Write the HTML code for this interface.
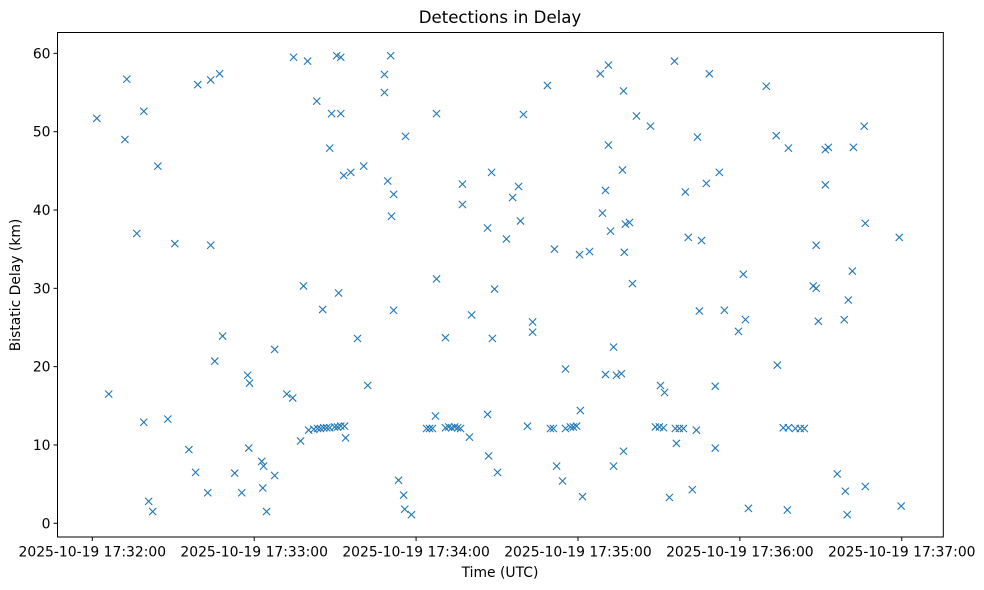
<!DOCTYPE html>
<html><head><meta charset="utf-8">
<style>
body{margin:0;background:#fff;}
svg{display:block;font-family:"DejaVu Sans","Liberation Sans",sans-serif;}
</style></head>
<body>
<svg id="chart" width="984" height="590" viewBox="0 0 984 590" xmlns="http://www.w3.org/2000/svg">
<rect width="984" height="590" fill="#fff"/>
<text x="500" y="23" text-anchor="middle" font-size="16.6">Detections in Delay</text>
<g id="marks"></g>
<rect x="57.5" y="32.5" width="885.8" height="504.5" fill="none" stroke="#000" stroke-width="1"/>
<g id="xticks"></g>
<g id="yticks"></g>
<text x="500" y="577" text-anchor="middle" font-size="13.9">Time (UTC)</text>
<text transform="translate(20,285) rotate(-90)" text-anchor="middle" font-size="13.9">Bistatic Delay (km)</text>
</svg>
<script>
// seconds after 2025-10-19 17:32:00
const times = [1.5,5.9,11.9,12.6,16.3,18.9,18.9,20.7,22.2,24.1,27.8,30.4,35.6,38.1,38.9,42.6,43.7,43.7,45.2,47.0,48.1,52.6,55.2,57.4,58.1,57.8,62.6,63.0,63.3,64.4,67.4,67.4,71.9,74.1,74.4,77.0,78.1,79.6,
80.0,81.9,83.3,84.4,85.6,86.7,87.8,89.6,90.7,91.9,93.3,
83.0,85.2,87.8,88.5,90.4,91.1,91.9,91.9,93.0,93.7,95.6,98.1,100.4,101.9,108.1,108.1,109.3,110.4,110.7,111.5,111.5,113.3,115.2,115.6,115.9,118.1,
123.7,124.8,125.9,127.0,127.4,127.4,130.7,
130.7,131.9,133.0,134.1,135.2,136.3,
137.0,137.0,139.6,140.4,146.3,146.3,146.7,147.8,148.1,148.9,150.0,153.3,155.6,157.8,158.5,159.6,161.1,163.0,163.0,168.5,169.6,170.7,171.1,171.9,174.1,175.2,175.2,177.0,178.1,179.3,180.4,180.7,181.5,184.1,
188.1,188.9,190.0,190.0,191.1,191.1,191.9,193.0,193.0,194.1,195.9,196.7,196.3,196.7,197.0,197.4,198.9,200.0,201.5,206.7,
208.5,210.0,211.5,210.4,211.9,213.7,215.6,215.9,216.3,217.4,218.9,219.6,220.7,222.2,223.7,224.1,224.8,225.6,227.4,228.5,230.7,230.7,232.2,234.1,239.3,241.1,241.9,243.0,249.6,253.3,253.7,
255.9,257.8,260.4,262.2,263.7,257.4,257.8,267.0,268.1,268.1,268.9,271.5,272.6,271.5,275.9,278.5,278.9,279.6,280.0,281.5,281.9,285.9,286.3,286.3,298.9,299.6];
const delays = [51.7,16.5,49.0,56.7,37.0,52.6,12.9,2.8,1.5,45.6,13.3,35.7,9.4,6.5,56.0,3.9,56.6,35.5,20.7,57.4,23.9,6.4,3.9,18.9,17.9,9.6,7.9,4.5,7.3,1.5,6.1,22.2,16.5,16.0,59.5,10.5,30.3,59.0,
11.9,12.0,12.1,12.1,12.2,12.2,12.2,12.3,12.3,12.4,12.4,
53.9,27.3,47.9,52.3,59.7,29.4,59.5,52.3,44.4,10.9,44.8,23.6,45.6,17.6,57.3,55.0,43.7,59.7,39.2,42.0,27.2,5.5,3.6,1.8,49.4,1.1,
12.1,12.1,12.1,13.7,52.3,31.2,23.7,
12.2,12.3,12.2,12.3,12.2,12.1,
43.3,40.7,11.0,26.6,37.7,13.9,8.6,44.8,23.6,29.9,6.5,36.3,41.6,43.0,38.6,52.2,12.4,25.7,24.4,55.9,12.1,12.1,35.0,7.3,5.4,19.7,12.1,12.3,12.3,12.4,34.3,14.4,3.4,34.7,
57.4,39.6,42.5,19.0,58.5,48.3,37.3,22.5,7.3,18.9,19.1,55.2,45.1,9.2,34.6,38.2,38.4,30.6,52.0,50.7,
12.3,12.3,12.2,17.6,16.7,3.3,59.0,12.1,10.2,12.1,12.1,42.3,36.5,4.3,11.9,49.3,27.1,36.1,43.4,57.4,17.5,9.6,44.8,27.2,24.5,31.8,26.0,1.9,55.8,49.5,20.2,
12.2,12.2,12.1,12.1,12.1,1.7,47.9,30.3,30.0,35.5,25.8,47.7,48.0,43.2,6.3,26.0,4.1,1.1,28.5,32.2,48.0,50.7,38.3,4.7,36.5,2.2];
const xTickValues = [0,60,120,180,240,300];
const xTickLabels = ["2025-10-19 17:32:00","2025-10-19 17:33:00","2025-10-19 17:34:00","2025-10-19 17:35:00","2025-10-19 17:36:00","2025-10-19 17:37:00"];
const yTickValues = [0,10,20,30,40,50,60];

const X0=57.5,X1=943.3,Y0=537,Y1=32.5;
const xMin=-12.9,xMax=315.4,yMin=-1.75,yMax=62.66;
function xs(v){return X0+(v-xMin)/(xMax-xMin)*(X1-X0);}
function ys(v){return Y0-(v-yMin)/(yMax-yMin)*(Y0-Y1);}
const NS="http://www.w3.org/2000/svg";
const marks=document.getElementById('marks');
for(let i=0;i<times.length;i++){
  const cx=xs(times[i])+0.5,cy=ys(delays[i]),r=3.6;
  const p=document.createElementNS(NS,'path');
  p.setAttribute('d',`M${cx-r},${cy-r}L${cx+r},${cy+r}M${cx-r},${cy+r}L${cx+r},${cy-r}`);
  p.setAttribute('stroke','#1f77b4');p.setAttribute('stroke-width','1.1');p.setAttribute('fill','none');
  
  
  marks.appendChild(p);
}
const xg=document.getElementById('xticks');
xTickValues.forEach((v,i)=>{
  const x=xs(v);
  const l=document.createElementNS(NS,'line');
  l.setAttribute('x1',x);l.setAttribute('x2',x);l.setAttribute('y1',Y0);l.setAttribute('y2',Y0+4);l.setAttribute('stroke','#000');
  
  
  xg.appendChild(l);
  const t=document.createElementNS(NS,'text');
  t.setAttribute('x',x);t.setAttribute('y',Y0+19.5);t.setAttribute('text-anchor','middle');t.setAttribute('font-size','13.9');
  t.textContent=xTickLabels[i];
  
  
  xg.appendChild(t);
});
const yg=document.getElementById('yticks');
yTickValues.forEach(v=>{
  const y=ys(v);
  const l=document.createElementNS(NS,'line');
  l.setAttribute('x1',X0-4);l.setAttribute('x2',X0);l.setAttribute('y1',y);l.setAttribute('y2',y);l.setAttribute('stroke','#000');
  
  
  yg.appendChild(l);
  const t=document.createElementNS(NS,'text');
  t.setAttribute('x',X0-7);t.setAttribute('y',y+5);t.setAttribute('text-anchor','end');t.setAttribute('font-size','13.9');
  t.textContent=String(v);
  
  
  yg.appendChild(t);
});
</script>
</body></html>
